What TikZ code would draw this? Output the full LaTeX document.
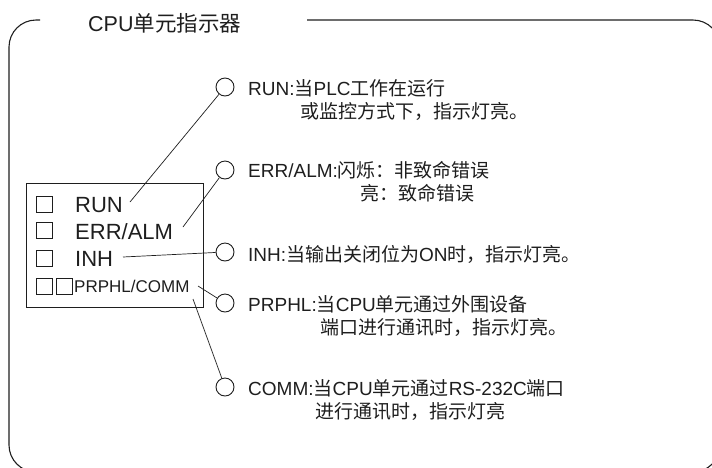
\documentclass[tikz,border=0pt]{standalone}
\usepackage{fontspec}
\setmainfont{Liberation Sans}
\newfontfamily\cjk{Noto Sans CJK SC}
\newcommand{\zh}[1]{{\cjk #1}}
\definecolor{ink}{RGB}{30,30,30}
\usetikzlibrary{positioning}

\begin{document}
\begin{tikzpicture}[x=1pt,y=-1pt,
    lamp/.style={circle,draw=ink,line width=0.9pt,minimum size=18pt,inner sep=0pt},
    led/.style={draw=ink,line width=0.8pt,minimum size=16pt,inner sep=0pt},
    tag/.style={anchor=base west,inner sep=0pt,text=ink,font=\fontsize{22}{24}\selectfont},
    note/.style={anchor=base west,inner sep=0pt,text=ink,align=left,font=\fontsize{19}{23.5}\selectfont},
    lead/.style={ink,line width=0.7pt}]
  \useasboundingbox (0,0) rectangle (712,467);
  % outer frame, cut by the page edge
  \begin{scope}
    \clip (0,0) rectangle (712,467);
    \draw[ink,line width=1.1pt,rounded corners=27pt]
      (40,20) -- (9,20) -- (9,472) -- (720,472) -- (720,20) -- (307,20);
  \end{scope}
  \node[anchor=base west,inner sep=0pt,text=ink,font=\fontsize{21.5}{24}\selectfont] (title) at (88,31) {CPU\zh{单元指示器}};

  % indicator panel
  \node[draw=ink,line width=0.9pt,minimum width=177pt,minimum height=124pt,inner sep=0pt,anchor=north west] (panel) at (26,183) {};
  \node[led] (sqrun) at (44,204) {};
  \node[led] (sqerr) at (44,230.5) {};
  \node[led] (sqinh) at (44,258) {};
  \node[led] (sqprp) at (44,286.5) {};
  \node[led] (sqcom) at (64.5,286.5) {};
  \node[tag] (tagrun) at (75,212) {RUN};
  \node[tag] (tagerr) at (75,239) {ERR/ALM};
  \node[tag] (taginh) at (75,266) {INH};
  \node[tag,font=\fontsize{17}{20}\selectfont] (tagcom) at (74,292) {PRPHL/COMM};

  % lamps and their notes (two-line notes sit on their last line)
  \node[lamp] (lrun) at (225,87) {};
  \node[lamp] (lerr) at (225,170) {};
  \node[lamp] (linh) at (225,252) {};
  \node[lamp] (lprp) at (225,303) {};
  \node[lamp] (lcom) at (225,387) {};
  \node[note] (nrun) at (248,118.5) {RUN:\zh{当}PLC\zh{工作在运行}\\\hspace*{52pt}\zh{或监控方式下，指示灯亮。}};
  \node[note] (nerr) at (248,200.5) {ERR/ALM:\zh{闪烁：非致命错误}\\\hspace*{112pt}\zh{亮：致命错误}};
  \node[note] (ninh) at (248,261) {INH:\zh{当输出关闭位为}ON\zh{时，指示灯亮。}};
  \node[note] (nprp) at (248,334.5) {PRPHL:\zh{当}CPU\zh{单元通过外围设备}\\\hspace*{72pt}\zh{端口进行通讯时，指示灯亮。}};
  \node[note] (ncom) at (248,418.5) {COMM:\zh{当}CPU\zh{单元通过}RS-232C\zh{端口}\\\hspace*{67pt}\zh{进行通讯时，指示灯亮}};

  % leaders
  \coordinate (crun) at (130,202);
  \coordinate (cerr) at (183,227);
  \coordinate (cinh) at (123,257);
  \coordinate (cprp) at (198,286);
  \coordinate (ccom) at (193,299);
  \draw[lead] (crun) -- (lrun);
  \draw[lead] (cerr) -- (lerr);
  \draw[lead] (cinh) -- (linh);
  \draw[lead] (cprp) -- (lprp);
  \draw[lead] (ccom) -- (lcom);
\end{tikzpicture}
\end{document}
